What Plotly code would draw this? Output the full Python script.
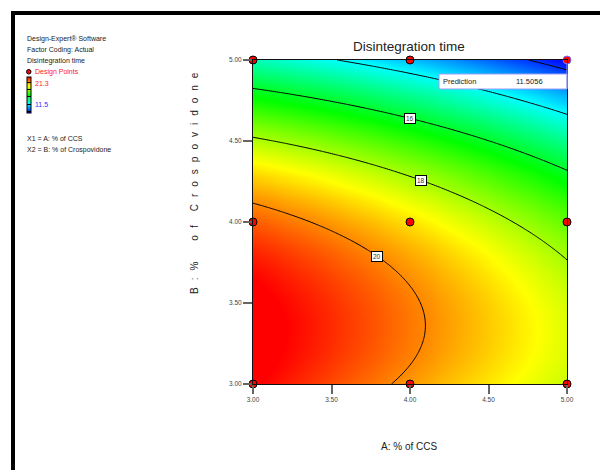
import numpy as np
import plotly.graph_objects as go

# Factor ranges (actual units)
ccs_range = [3.0, 5.0]          # A: % of CCS
crospovidone_range = [3.0, 5.0] # B: % of Crospovidone

# Response model for disintegration time in coded factors (-1..+1)
coef_intercept = 19.115
coef_a = -1.545
coef_b = -3.245
coef_ab = -0.0194
coef_a2 = -0.235
coef_b2 = -2.54
coef_a2b = -0.145
coef_a2b2 = 0.12

# Design runs (3x3 factorial)
design_a = [3, 4, 5, 3, 4, 5, 3, 4, 5]
design_b = [3, 3, 3, 4, 4, 4, 5, 5, 5]

# Contour levels and labelled positions along A
contour_levels = [12, 14, 16, 18, 20]
label_levels = [16, 18, 20]
label_a = [4.0, 4.07, 3.79]

# Colour range shown in the legend bar
color_min, color_max = 11.5, 21.3

# Point of the prediction flag
pred_a, pred_b = 5.0, 5.0


def poly_in_b(a):
    """Coefficients (y^2, y, 1) of the model at a fixed A, y = coded B."""
    x = a - 4.0
    c2 = coef_b2 + coef_a2b2 * x * x
    c1 = coef_b + coef_ab * x + coef_a2b * x * x
    c0 = coef_intercept + coef_a * x + coef_a2 * x * x
    return c2, c1, c0


def model(a, b):
    c2, c1, c0 = poly_in_b(a)
    y = b - 4.0
    return c0 + c1 * y + c2 * y * y


def solve_b(a, level):
    c2, c1, c0 = poly_in_b(a)
    roots = np.roots([c2, c1, c0 - level])
    roots = [r.real for r in roots if abs(r.imag) < 1e-9 and -1.0 <= r.real <= 1.0]
    return max(roots) + 4.0


a_grid = np.linspace(ccs_range[0], ccs_range[1], 161)
b_grid = np.linspace(crospovidone_range[0], crospovidone_range[1], 161)
AA, BB = np.meshgrid(a_grid, b_grid)
Z = model(AA, BB)

# plot-area geometry in pixels
L, T, W, H = 253, 60, 314, 324


def px(x):
    return (x - L) / W


def py(y):
    return (T + H - y) / H


NARROW = "Liberation Sans Narrow, Arial Narrow, Liberation Sans, sans-serif"
REG = "Liberation Sans, Arial, sans-serif"

rainbow = [[0.0, "#0000ff"], [0.25, "#00ffff"], [0.5, "#00ff00"],
           [0.75, "#ffff00"], [1.0, "#ff0000"]]

fig = go.Figure()

fig.add_trace(go.Contour(
    x=a_grid, y=b_grid, z=Z,
    colorscale=rainbow, zmin=color_min, zmax=color_max, zauto=False,
    contours=dict(start=contour_levels[0], end=contour_levels[-1],
                  size=contour_levels[1] - contour_levels[0],
                  coloring="heatmap", showlabels=False),
    line=dict(color="black", width=1),
    hoverinfo="skip",
    colorbar=dict(
        x=px(26.5), xanchor="left", xref="paper",
        y=py(95), yanchor="middle", yref="paper",
        thickness=4, thicknessmode="pixels",
        len=36, lenmode="pixels",
        xpad=0, ypad=0,
        outlinewidth=1, outlinecolor="black",
        showticklabels=False, ticks="",
    ),
))

outline_colors = ["black"] * len(design_a)
for i, (a, b) in enumerate(zip(design_a, design_b)):
    if a == pred_a and b == pred_b:
        outline_colors[i] = "#7070ff"

fig.add_trace(go.Scatter(
    x=design_a, y=design_b, mode="markers",
    marker=dict(size=8, color="#ff0000", line=dict(color=outline_colors, width=1)),
    cliponaxis=False, hoverinfo="skip", showlegend=False,
))

annotations = []

# contour labels on the lines
for lev, a in zip(label_levels, label_a):
    annotations.append(dict(
        x=a, y=solve_b(a, lev), xref="x", yref="y", text=str(lev),
        showarrow=False, font=dict(family=NARROW, size=6.5, color="#333"),
        bgcolor="white", bordercolor="black", borderwidth=1, borderpad=1,
    ))

# title
annotations.append(dict(x=px(409), y=py(46), xref="paper", yref="paper",
                        text="Disintegration time", showarrow=False,
                        font=dict(family=NARROW, size=13.5, color="#222"),
                        xanchor="center", yanchor="middle"))

# axis titles
annotations.append(dict(x=px(409), y=py(446), xref="paper", yref="paper",
                        text="A: % of CCS", showarrow=False,
                        font=dict(family=NARROW, size=10, color="#222"),
                        xanchor="center", yanchor="middle"))
gap = "\u2002\u2009"
ytitle = ("B" + gap + ":" + gap + "%" + gap * 3
          + gap.join("of") + gap * 2 + gap.join("Crospovidone"))
annotations.append(dict(x=px(194), y=py(183), xref="paper", yref="paper",
                        text=ytitle, textangle=-90, showarrow=False,
                        font=dict(family=REG, size=10, color="#222"),
                        xanchor="center", yanchor="middle"))

# info block on the left
info = [("Design-Expert® Software", 39, "#222", 25),
        ("Factor Coding: Actual", 50, "#222", 25),
        ("Disintegration time", 61, "#222", 25),
        ("Design Points", 72, "#ff2020", 33),
        (f"{color_max:.1f}", 83, "#ff2020", 33),
        (f"{color_min:.1f}", 105, "#3030ff", 33),
        ("X1 = A: % of CCS", 138, "#222", 25),
        ("X2 = B: % of Crospovidone", 150, "#222", 25)]
for txt, yy, col, xx in info:
    annotations.append(dict(x=px(xx), y=py(yy), xref="paper", yref="paper",
                            text=txt, showarrow=False,
                            font=dict(family=NARROW, size=7, color=col),
                            xanchor="left", yanchor="middle"))

# prediction flag
pred_value = model(pred_a, pred_b)
annotations.append(dict(x=px(441), y=py(81.5), xref="paper", yref="paper",
                        text="Prediction", showarrow=False,
                        font=dict(family=NARROW, size=7.5, color="#222"),
                        xanchor="left", yanchor="middle"))
annotations.append(dict(x=px(514), y=py(81.5), xref="paper", yref="paper",
                        text=f"{pred_value:.4f}", showarrow=False,
                        font=dict(family=NARROW, size=7.5, color="#222"),
                        xanchor="left", yanchor="middle"))

shapes = [
    # prediction box
    dict(type="rect", xref="paper", yref="paper",
         x0=px(439), x1=px(567), y0=py(89), y1=py(74),
         fillcolor="white", line=dict(color="#9a9aff", width=1)),
    dict(type="line", xref="paper", yref="paper",
         x0=px(567), x1=px(567), y0=py(89), y1=py(63),
         line=dict(color="#9a9aff", width=1)),
    # legend dot
    dict(type="circle", xref="paper", yref="paper",
         x0=px(26.5), x1=px(31), y0=py(69.5), y1=py(74),
         fillcolor="#ff0000", line=dict(color="black", width=1)),
    # outer frame (top and left)
    dict(type="line", xref="paper", yref="paper",
         x0=px(11), x1=px(610), y0=py(13), y1=py(13),
         line=dict(color="black", width=4)),
    dict(type="line", xref="paper", yref="paper",
         x0=px(13), x1=px(13), y0=py(11), y1=py(480),
         line=dict(color="black", width=4)),
]

axis_common = dict(
    range=[3, 5], tickvals=[3.0, 3.5, 4.0, 4.5, 5.0], tickformat=".2f",
    ticks="outside", ticklen=9, tickwidth=1.5, tickcolor="#666",
    showline=True, linecolor="#111", linewidth=1, mirror=True,
    showgrid=False, zeroline=False,
    tickfont=dict(family=NARROW, size=6.5, color="#444"),
)

fig.update_layout(
    width=600, height=470,
    margin=dict(l=L, r=600 - L - W, t=T, b=470 - T - H),
    paper_bgcolor="white", plot_bgcolor="white",
    xaxis=dict(**axis_common),
    yaxis=dict(**axis_common),
    annotations=annotations, shapes=shapes, showlegend=False,
)

fig.write_html("out.html")
